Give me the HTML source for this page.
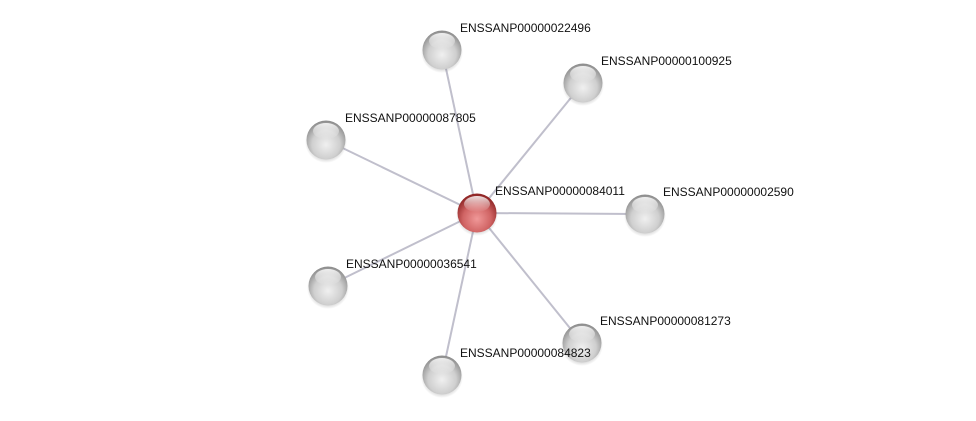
<!DOCTYPE html>
<html><head><meta charset="utf-8"><style>
html,body{margin:0;padding:0;background:#fff;}
svg{display:block;}
text{font-family:"Liberation Sans",sans-serif;font-size:12px;fill:#111;}
</style></head><body>
<svg width="976" height="421" viewBox="0 0 976 421" xmlns="http://www.w3.org/2000/svg">
<defs>
<radialGradient id="g" cx="0.5" cy="0.62" r="0.6">
<stop offset="0" stop-color="#f0f0f0"/><stop offset="0.6" stop-color="#cfcfcf"/><stop offset="1" stop-color="#8e8e8e"/>
</radialGradient>
<radialGradient id="r" cx="0.5" cy="0.65" r="0.6">
<stop offset="0" stop-color="#f09898"/><stop offset="0.6" stop-color="#d06464"/><stop offset="1" stop-color="#922828"/>
</radialGradient>
<linearGradient id="h" x1="0" y1="0" x2="0" y2="1">
<stop offset="0" stop-color="#fff" stop-opacity="0.85"/><stop offset="1" stop-color="#fff" stop-opacity="0"/>
</linearGradient>
<radialGradient id="sh" cx="0.5" cy="0.5" r="0.5">
<stop offset="0.6" stop-color="#000" stop-opacity="0.3"/><stop offset="1" stop-color="#000" stop-opacity="0"/>
</radialGradient>
</defs>
<g stroke="#c0bfcc" stroke-width="2">
<line x1="477" y1="213" x2="442" y2="50"/>
<line x1="477" y1="213" x2="583" y2="83"/>
<line x1="477" y1="213" x2="326" y2="140"/>
<line x1="477" y1="213" x2="645" y2="214"/>
<line x1="477" y1="213" x2="328" y2="286"/>
<line x1="477" y1="213" x2="582" y2="343"/>
<line x1="477" y1="213" x2="442" y2="375"/>
</g>
<g>
<g transform="translate(442,50)"><circle r="21" cy="2" fill="url(#sh)"/><circle r="19.5" fill="url(#g)"/><ellipse cy="-9" rx="13" ry="8" fill="url(#h)"/></g>
<g transform="translate(583,83)"><circle r="21" cy="2" fill="url(#sh)"/><circle r="19.5" fill="url(#g)"/><ellipse cy="-9" rx="13" ry="8" fill="url(#h)"/></g>
<g transform="translate(326,140)"><circle r="21" cy="2" fill="url(#sh)"/><circle r="19.5" fill="url(#g)"/><ellipse cy="-9" rx="13" ry="8" fill="url(#h)"/></g>
<g transform="translate(645,214)"><circle r="21" cy="2" fill="url(#sh)"/><circle r="19.5" fill="url(#g)"/><ellipse cy="-9" rx="13" ry="8" fill="url(#h)"/></g>
<g transform="translate(328,286)"><circle r="21" cy="2" fill="url(#sh)"/><circle r="19.5" fill="url(#g)"/><ellipse cy="-9" rx="13" ry="8" fill="url(#h)"/></g>
<g transform="translate(582,343)"><circle r="21" cy="2" fill="url(#sh)"/><circle r="19.5" fill="url(#g)"/><ellipse cy="-9" rx="13" ry="8" fill="url(#h)"/></g>
<g transform="translate(442,375)"><circle r="21" cy="2" fill="url(#sh)"/><circle r="19.5" fill="url(#g)"/><ellipse cy="-9" rx="13" ry="8" fill="url(#h)"/></g>
<g transform="translate(477,213)"><circle r="21" cy="2" fill="url(#sh)"/><circle r="19.5" fill="url(#r)"/><ellipse cy="-9" rx="13" ry="8" fill="url(#h)"/></g>
</g>
<g>
<text x="460" y="32">ENSSANP00000022496</text>
<text x="601" y="65">ENSSANP00000100925</text>
<text x="345" y="122">ENSSANP00000087805</text>
<text x="495" y="195">ENSSANP00000084011</text>
<text x="663" y="196">ENSSANP00000002590</text>
<text x="346" y="268">ENSSANP00000036541</text>
<text x="600" y="325">ENSSANP00000081273</text>
<text x="460" y="357">ENSSANP00000084823</text>
</g>
</svg>
</body></html>
